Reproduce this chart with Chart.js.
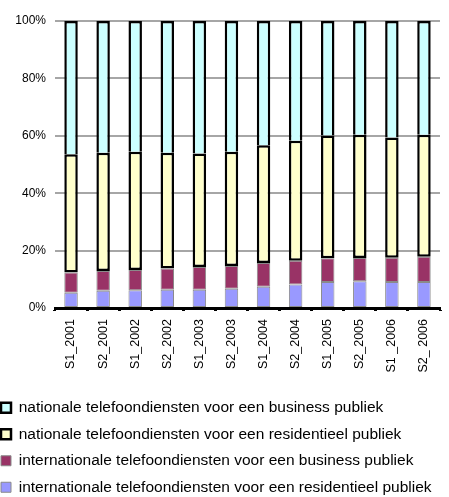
<!DOCTYPE html>
<html lang="nl">
<head>
  <meta charset="UTF-8" />
  <title>Telefoondiensten</title>
  <style>
    body {
      margin: 0;
      background: #ffffff;
    }

    .wrap {
      width: 449px;
      height: 497px;
    }
  </style>
</head>
<body>
  <div class="wrap">
    <canvas id="myChart"></canvas>
  </div>
  <script src="https://cdn.jsdelivr.net/npm/chart.js@4/dist/chart.umd.min.js"></script>
  <script>
    // periodes (let op: de laatste twee labels staan zo in de bron)
    const periods = ["S1_2001", "S2_2001", "S1_2002", "S2_2002", "S1_2003", "S2_2003",
      "S1_2004", "S2_2004", "S1_2005", "S2_2005", "S1 _2006", "S2_ 2006"];

    // aandeel in % per segment, van onder naar boven
    const intlResidentieel = [5.3, 6.0, 6.2, 6.4, 6.4, 6.7, 7.4, 8.2, 9.1, 9.3, 9.1, 9.1];
    const intlBusiness = [7.1, 6.9, 7.0, 7.4, 7.9, 7.9, 8.3, 8.3, 8.2, 8.1, 8.4, 8.8];
    const natResidentieel = [41.2, 41.2, 41.2, 40.3, 39.5, 39.8, 41.0, 41.8, 42.8, 43.0, 41.9, 42.5];
    const natBusiness = [46.4, 45.9, 45.6, 45.9, 46.2, 45.6, 43.3, 41.7, 39.9, 39.6, 40.6, 39.6];

    const yTicks = [0, 20, 40, 60, 80, 100];

    const font = "'Liberation Sans', Arial, sans-serif";

    function bar(label, data, bg, border, width, skip) {
      return {
        label: label,
        data: data,
        backgroundColor: bg,
        borderColor: border,
        borderWidth: width,
        borderSkipped: skip,
        categoryPercentage: 1,
        barPercentage: 0.42
      };
    }

    // legenda iets naar links en omlaag, zoals in het origineel
    const shiftLegend = {
      id: "shiftLegend",
      beforeDraw(chart) {
        const lg = chart.legend;
        if (!lg._moved) {
          lg.left -= 10;
          lg.right = chart.width;
          lg.top += 8;
          lg.bottom = chart.height;
          lg._moved = true;
        }
      },
      afterLayout(chart) {
        chart.legend._moved = false;
      }
    };

    var ctx = document.getElementById("myChart").getContext("2d");
    var myChart = new Chart(ctx, {
      type: "bar",
      data: {
        labels: periods,
        datasets: [
          bar("internationale telefoondiensten voor een residentieel publiek", intlResidentieel, "#9999ff", "#8a8a8a", 1, false),
          bar("internationale telefoondiensten voor een business publiek", intlBusiness, "#993366", "#8a8a8a", 1, false),
          bar("nationale telefoondiensten voor een residentieel publiek", natResidentieel, "#ffffcc", "#000000", 2.5, false),
          bar("nationale telefoondiensten voor een business publiek", natBusiness, "#ccffff", "#000000", 2.5, "bottom")
        ]
      },
      options: {
        responsive: true,
        maintainAspectRatio: false,
        animation: false,
        layout: {
          padding: { top: 21, right: 9, left: 0, bottom: 0 }
        },
        scales: {
          x: {
            stacked: true,
            border: { display: true, color: "#000000", width: 3 },
            grid: {
              offset: true,
              drawOnChartArea: false,
              drawTicks: true,
              tickLength: 3,
              tickColor: "#000000",
              tickWidth: 3,
              color: "#000000"
            },
            ticks: {
              minRotation: 90,
              maxRotation: 90,
              autoSkip: false,
              padding: 8,
              color: "#000000",
              font: { family: font, size: 12.5 }
            },
            afterFit(scale) {
              scale.height = 73;
            }
          },
          y: {
            stacked: true,
            min: 0,
            max: 100,
            border: { display: false },
            grid: {
              drawTicks: false,
              color: "#a6a6a6",
              lineWidth: 2
            },
            afterBuildTicks(scale) {
              scale.ticks = yTicks.map(v => ({ value: v }));
            },
            ticks: {
              padding: 9,
              color: "#000000",
              font: { family: font, size: 12 },
              callback: v => v + "%"
            },
            afterFit(scale) {
              scale.width = 55;
            }
          }
        },
        plugins: {
          tooltip: { enabled: false },
          legend: {
            position: "bottom",
            align: "start",
            reverse: true,
            labels: {
              boxWidth: 10,
              boxHeight: 10,
              padding: 11,
              color: "#000000",
              font: { family: font, size: 15.5 }
            }
          }
        }
      },
      plugins: [shiftLegend]
    });
  </script>
</body>
</html>
